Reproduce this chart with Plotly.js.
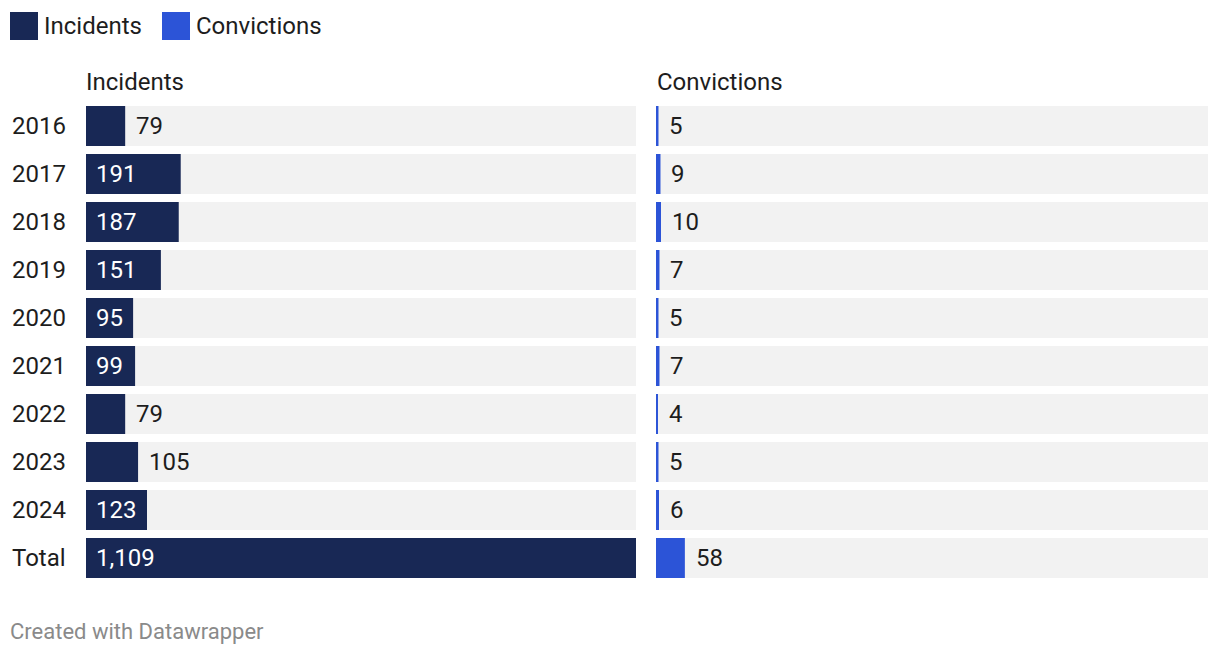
<!DOCTYPE html>
<html>
<head>
<meta charset="utf-8">
<script src="https://cdn.plot.ly/plotly-3.0.1.min.js"></script>
<style>
html,body{margin:0;padding:0;background:#fff;}
#chart{width:1220px;height:656px;}
</style>
</head>
<body>
<div id="chart"></div>
<script>
// ---- data ----
const years = ['2016','2017','2018','2019','2020','2021','2022','2023','2024','Total'];
const incidents = [79,191,187,151,95,99,79,105,123,1109];
const convictions = [5,9,10,7,5,7,4,5,6,58];
const seriesNames = ['Incidents','Convictions'];
const footerText = 'Created with Datawrapper';

// ---- style ----
const W = 1220, H = 656;
const NAVY = '#182855', BLUE = '#2c54d7', BG = '#f2f2f2', TXT = '#1d1d1d';
const FONT = 'Roboto, "Open Sans", sans-serif';
const FS = 24;
const maxVal = Math.max(...incidents, ...convictions);
const px = v => v / W;
const py = v => 1 - v / H;

const d1 = [px(86), px(636)];
const d2 = [px(656), px(1208)];
const yd = [py(582), py(102)];

const fmt = v => v.toLocaleString('en-US');

const bgVals = years.map(() => maxVal);

const traces = [
  {type:'bar', orientation:'h', y:years, x:bgVals, xaxis:'x', yaxis:'y', marker:{color:BG}, hoverinfo:'skip', showlegend:false},
  {type:'bar', orientation:'h', y:years, x:incidents, xaxis:'x', yaxis:'y', marker:{color:NAVY}, name:seriesNames[0], showlegend:false},
  {type:'bar', orientation:'h', y:years, x:bgVals, xaxis:'x2', yaxis:'y2', marker:{color:BG}, hoverinfo:'skip', showlegend:false},
  {type:'bar', orientation:'h', y:years, x:convictions, xaxis:'x2', yaxis:'y2', marker:{color:BLUE}, name:seriesNames[1], showlegend:false}
];

const annotations = [];
function addLabels(vals, xref, yref, domain) {
  const widthPx = (domain[1]-domain[0]) * W;
  vals.forEach((v, i) => {
    const s = fmt(v);
    const barPx = v / maxVal * widthPx;
    const textPx = s.length * 13.5;
    const inside = barPx >= textPx + 18;
    annotations.push({
      xref: xref, yref: yref, x: inside ? 0 : v, y: i,
      text: s, showarrow: false, xanchor: 'left', yanchor: 'middle',
      xshift: inside ? 8 : 9,
      font: {family: FONT, size: FS, color: inside ? '#ffffff' : TXT}
    });
  });
}
addLabels(incidents, 'x', 'y', d1);
addLabels(convictions, 'x2', 'y2', d2);

// row labels
years.forEach((y, i) => {
  annotations.push({xref:'paper', yref:'y', x:px(10), y:i, text:y, showarrow:false,
    xanchor:'left', yanchor:'middle', font:{family:FONT, size:FS, color:TXT}});
});

// column headers
annotations.push({xref:'paper', yref:'paper', x:px(84), y:py(82), text:seriesNames[0], showarrow:false,
  xanchor:'left', yanchor:'middle', font:{family:FONT, size:FS, color:TXT}});
annotations.push({xref:'paper', yref:'paper', x:px(655), y:py(82), text:seriesNames[1], showarrow:false,
  xanchor:'left', yanchor:'middle', font:{family:FONT, size:FS, color:TXT}});

// legend
annotations.push({xref:'paper', yref:'paper', x:px(42), y:py(26), text:seriesNames[0], showarrow:false,
  xanchor:'left', yanchor:'middle', font:{family:FONT, size:FS, color:TXT}});
annotations.push({xref:'paper', yref:'paper', x:px(194), y:py(26), text:seriesNames[1], showarrow:false,
  xanchor:'left', yanchor:'middle', font:{family:FONT, size:FS, color:TXT}});

// footer
annotations.push({xref:'paper', yref:'paper', x:px(8), y:py(631), text:footerText, showarrow:false,
  xanchor:'left', yanchor:'middle', font:{family:FONT, size:22, color:'#8a8a8a'}});

const shapes = [
  {type:'rect', xref:'paper', yref:'paper', x0:px(10), x1:px(38), y0:py(40), y1:py(12), fillcolor:NAVY, line:{width:0}},
  {type:'rect', xref:'paper', yref:'paper', x0:px(162), x1:px(190), y0:py(40), y1:py(12), fillcolor:BLUE, line:{width:0}}
];

const axX = {range:[0, maxVal], autorange:false, showgrid:false, zeroline:false, showticklabels:false, fixedrange:true};
const axY = {type:'category', categoryorder:'array', categoryarray:years,
  range:[years.length - 0.5, -0.5], autorange:false,
  showgrid:false, zeroline:false, showticklabels:false, fixedrange:true, domain:yd};

const layout = {
  width: W, height: H,
  margin: {l:0, r:0, t:0, b:0},
  paper_bgcolor: '#fff', plot_bgcolor: '#fff',
  barmode: 'overlay', bargap: 8/48,
  showlegend: false,
  font: {family: FONT, color: TXT},
  xaxis: Object.assign({domain:d1, anchor:'y'}, axX),
  xaxis2: Object.assign({domain:d2, anchor:'y2'}, axX),
  yaxis: Object.assign({anchor:'x'}, axY),
  yaxis2: Object.assign({anchor:'x2'}, axY),
  annotations: annotations,
  shapes: shapes
};

Plotly.newPlot('chart', traces, layout, {displayModeBar:false, staticPlot:true});
</script>
</body>
</html>
